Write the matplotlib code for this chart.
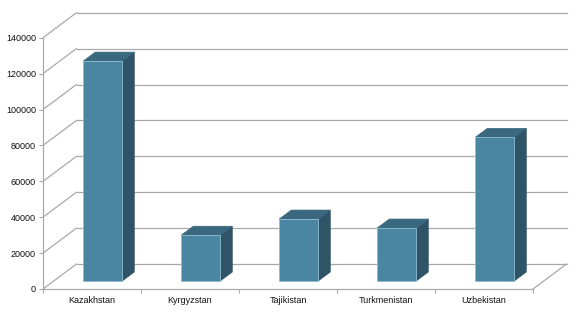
import matplotlib.pyplot as plt
from matplotlib.patches import Polygon

# datos
paises = ['Kazakhstan', 'Kyrgyzstan', 'Tajikistan', 'Turkmenistan', 'Uzbekistan']
valores = [122500, 25500, 34500, 29500, 80000]
yticks = [0, 20000, 40000, 60000, 80000, 100000, 120000, 140000]

plt.rcParams['font.family'] = ['Liberation Sans', 'DejaVu Sans']

W, H = 580, 312
fig = plt.figure(figsize=(W / 100, H / 100), dpi=100)

# escala: 98 px por categoria, 35.9 px por 20000
px_cat = 98.0
px_val = 35.9 / 20000
x_left, y_bot = 43, 23
ax_w, ax_h = 530, 282
ax = fig.add_axes([x_left / W, y_bot / H, ax_w / W, ax_h / H])
ax.set_xlim(-0.5, -0.5 + ax_w / px_cat)
ax.set_ylim(0, ax_h / px_val)
for s in ax.spines.values():
    s.set_visible(False)

# profundidad del "3D"
DX = 33.5 / px_cat
DY = 25 / px_val
f, g = 0.32, 0.68
hw = 0.199
grid_c = '#a9a9a9'
n = len(paises)
top = yticks[-1]

# pared del fondo y pared lateral
for v in yticks:
    ax.plot([-0.5 + DX, n - 0.5 + DX], [v + DY, v + DY], color=grid_c, lw=0.9, zorder=1)
    ax.plot([-0.5, -0.5 + DX], [v, v + DY], color=grid_c, lw=0.9, zorder=1)
# piso
ax.plot([-0.5, n - 0.5], [0, 0], color=grid_c, lw=0.9, zorder=1, clip_on=False)
ax.plot([n - 0.5, n - 0.5 + DX], [0, DY], color=grid_c, lw=0.9, zorder=1)
# eje vertical delantero
ax.plot([-0.5, -0.5], [0, top], color=grid_c, lw=0.9, zorder=1, clip_on=False)

# barras
for i, v in enumerate(valores):
    x0, x1 = i - hw, i + hw
    frente = [(x0 + f * DX, f * DY), (x1 + f * DX, f * DY),
              (x1 + f * DX, v + f * DY), (x0 + f * DX, v + f * DY)]
    lado = [(x1 + f * DX, f * DY), (x1 + g * DX, g * DY),
            (x1 + g * DX, v + g * DY), (x1 + f * DX, v + f * DY)]
    tapa = [(x0 + f * DX, v + f * DY), (x1 + f * DX, v + f * DY),
            (x1 + g * DX, v + g * DY), (x0 + g * DX, v + g * DY)]
    ax.add_patch(Polygon(lado, closed=True, facecolor='#2f5467', edgecolor='#2f5467', lw=0.5, zorder=3))
    ax.add_patch(Polygon(tapa, closed=True, facecolor='#3a687e', edgecolor='#3a687e', lw=0.5, zorder=3))
    ax.add_patch(Polygon(frente, closed=True, facecolor='#4a86a1', edgecolor='#8dbcd2', lw=0.6, zorder=4))

# ticks
ax.set_yticks(yticks)
ax.set_yticklabels([str(t) for t in yticks])
ax.tick_params(axis='y', length=3, width=0.8, color=grid_c, pad=2, labelsize=6.5, labelcolor='#111111')
ax.set_xticks([i - 0.5 for i in range(n + 1)])
ax.set_xticklabels([])
ax.set_xticks(range(n), minor=True)
ax.set_xticklabels(paises, minor=True)
ax.tick_params(axis='x', which='major', length=3, width=0.8, color=grid_c, direction='out')
ax.tick_params(axis='x', which='minor', length=0, pad=5, labelsize=6.5, labelcolor='#111111')

fig.savefig('out.png', dpi=100, facecolor='white')
